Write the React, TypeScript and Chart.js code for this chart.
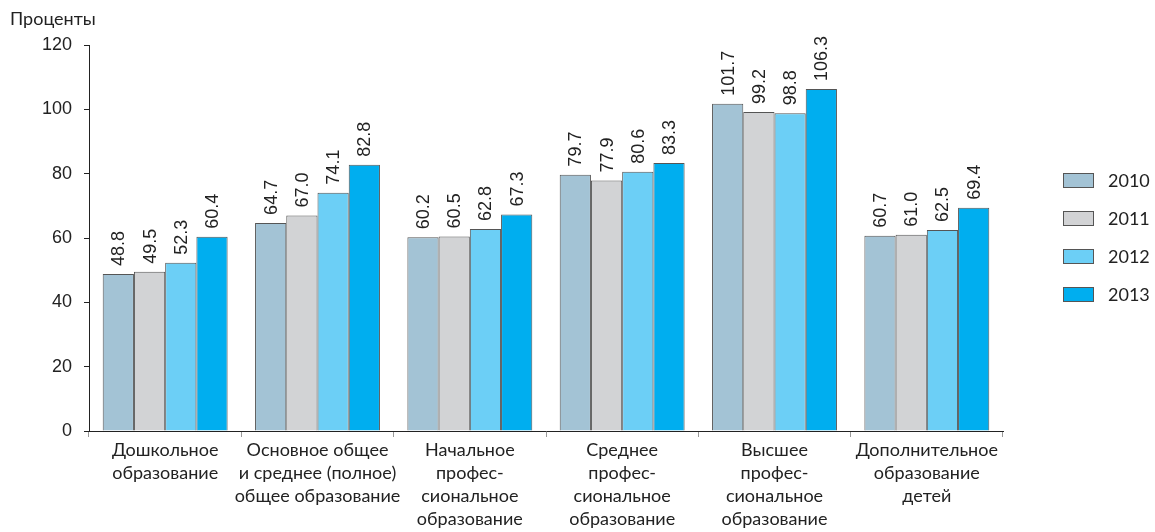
import React, { useEffect, useRef } from "react";
import { Chart, registerables } from "chart.js";

Chart.register(...registerables);

const categories: string[][] = [
  ["Дошкольное", "образование"],
  ["Основное общее", "и среднее (полное)", "общее образование"],
  ["Начальное", "профес-", "сиональное", "образование"],
  ["Среднее", "профес-", "сиональное", "образование"],
  ["Высшее", "профес-", "сиональное", "образование"],
  ["Дополнительное", "образование", "детей"],
];

const years = ["2010", "2011", "2012", "2013"];
const values2010 = [48.8, 64.7, 60.2, 79.7, 101.7, 60.7];
const values2011 = [49.5, 67.0, 60.5, 77.9, 99.2, 61.0];
const values2012 = [52.3, 74.1, 62.8, 80.6, 98.8, 62.5];
const values2013 = [60.4, 82.8, 67.3, 83.3, 106.3, 69.4];
const colors = ["#a3c3d5", "#d2d3d5", "#6ccff6", "#00aeef"];
const yTitle = "Проценты";

const NARROW = "'Liberation Sans Narrow', 'Arial Narrow', 'Liberation Sans', sans-serif";

const valueLabels = {
  id: "valueLabels",
  afterDatasetsDraw(chart: any) {
    const ctx = chart.ctx;
    ctx.save();
    ctx.font = "18px " + NARROW;
    ctx.fillStyle = "#222";
    ctx.textAlign = "left";
    ctx.textBaseline = "middle";
    chart.data.datasets.forEach((ds: any, di: number) => {
      const meta = chart.getDatasetMeta(di);
      meta.data.forEach((bar: any, i: number) => {
        const v = ds.data[i];
        ctx.save();
        ctx.translate(bar.x + 1, bar.y - 8);
        ctx.rotate(-Math.PI / 2);
        ctx.fillText(v.toFixed(1), 0, 0);
        ctx.restore();
      });
    });
    ctx.restore();
  },
};

const extras = {
  id: "extras",
  afterDraw(chart: any) {
    const ctx = chart.ctx;
    ctx.save();
    ctx.font = "18px Lato, sans-serif";
    ctx.fillStyle = "#222";
    ctx.textAlign = "left";
    ctx.textBaseline = "middle";
    ctx.fillText(yTitle, 10, 19);
    // legend
    const ca = chart.chartArea;
    const x0 = 1063;
    const spacing = 38;
    const cy = (ca.top + ca.bottom) / 2 - 1;
    const startY = cy - (spacing * (years.length - 1)) / 2;
    ctx.font = "18px Lato, sans-serif";
    years.forEach((y, i) => {
      const yy = startY + i * spacing;
      ctx.fillStyle = colors[i];
      ctx.fillRect(x0, yy - 7, 31, 15);
      ctx.strokeStyle = "#555";
      ctx.lineWidth = 1;
      ctx.strokeRect(x0 + 0.5, yy - 7 + 0.5, 30, 14);
      ctx.fillStyle = "#222";
      ctx.fillText(y, x0 + 45, yy + 1);
    });
    ctx.restore();
  },
};

export default function App() {
  const ref = useRef<HTMLCanvasElement>(null);
  useEffect(() => {
    document.body.style.margin = "0";
    const mk = (label: string, data: number[], c: string) => ({
      label,
      data,
      backgroundColor: c,
      borderColor: "#555",
      borderWidth: 1,
      barPercentage: 1,
      categoryPercentage: 0.82,
    });
    const chart = new Chart(ref.current!, {
      type: "bar",
      data: {
        labels: categories,
        datasets: [
          mk(years[0], values2010, colors[0]),
          mk(years[1], values2011, colors[1]),
          mk(years[2], values2012, colors[2]),
          mk(years[3], values2013, colors[3]),
        ],
      },
      options: {
        animation: false,
        responsive: false,
        layout: { padding: { left: 0, right: 152, top: 45, bottom: 0 } },
        plugins: { legend: { display: false }, tooltip: { enabled: false } },
        scales: {
          x: {
            afterFit: (s: any) => { s.height = 101; },
            grid: {
              offset: true,
              drawOnChartArea: false,
              tickLength: 6,
              color: "#999",
            },
            border: { color: "#222", width: 1 },
            ticks: {
              color: "#222",
              font: { family: "Lato, sans-serif", size: 18, lineHeight: 1.28 },
              maxRotation: 0,
              autoSkip: false,
              padding: 2,
            },
          },
          y: {
            min: 0,
            max: 120,
            afterFit: (s: any) => { s.width = 89; },
            grid: { drawOnChartArea: false, tickLength: 5, color: "#222" },
            border: { color: "#222", width: 1 },
            ticks: {
              stepSize: 20,
              color: "#222",
              font: { family: NARROW, size: 18 },
              padding: 12,
            },
          },
        },
      },
      plugins: [valueLabels, extras],
    });
    return () => chart.destroy();
  }, []);
  return <canvas ref={ref} width={1155} height={532} style={{ display: "block" }} />;
}
